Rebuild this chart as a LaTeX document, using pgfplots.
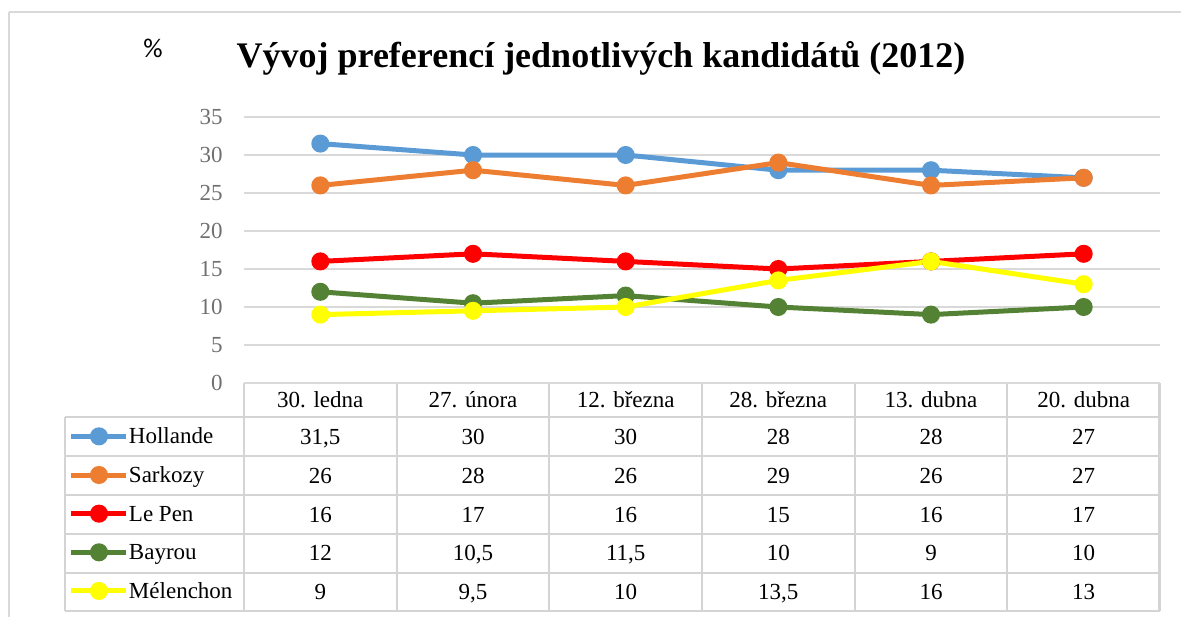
\documentclass[border=0pt]{standalone}
\usepackage{fontspec}
\setmainfont{Liberation Serif}
\newfontfamily\pctfont{Carlito}
\usepackage{pgfplots}
\pgfplotsset{compat=1.18}

\definecolor{hollande}{HTML}{5B9BD5}
\definecolor{sarkozy}{HTML}{ED7D31}
\definecolor{lepen}{HTML}{FF0000}
\definecolor{bayrou}{HTML}{548235}
\definecolor{melenchon}{HTML}{FFFF00}
\definecolor{gridgray}{HTML}{D9D9D9}
\definecolor{tablegray}{HTML}{D4D4D4}
\definecolor{tickgray}{HTML}{707070}

\newcommand{\cellfont}{\fontsize{11.5}{13}\selectfont}

\tikzset{
  series/.style={line width=2.5pt, mark=*, mark size=3.25pt, mark options={solid}},
}

% one row of the data table, #1 = row centre in px (y down)
\newcommand{\tablerow}[7]{%
  \node[anchor=base, font=\cellfont] at (320.3,#1+7.5) {#2};
  \node[anchor=base, font=\cellfont] at (473.0,#1+7.5) {#3};
  \node[anchor=base, font=\cellfont] at (625.7,#1+7.5) {#4};
  \node[anchor=base, font=\cellfont] at (778.3,#1+7.5) {#5};
  \node[anchor=base, font=\cellfont] at (931.0,#1+7.5) {#6};
  \node[anchor=base, font=\cellfont] at (1083.7,#1+7.5) {#7};
}

\begin{document}
\begin{tikzpicture}
\useasboundingbox (0,0) rectangle (590.5pt,308.5pt);

% frame, table grid and texts, in pixel units of the reference
\begin{scope}[x=0.5pt, y=-0.5pt, yshift=308.5pt]
  \draw[gridgray, line width=1pt] (9,12) -- (1181,12);
  \draw[gridgray, line width=1pt] (9,12) -- (9,617);

  \begin{scope}[tablegray, line width=1.1pt]
    \draw (244,383) -- (1159.5,383);
    \foreach \yy in {416.7,456,495,534,572.7,611.3}
      \draw (65,\yy) -- (1159.5,\yy);
    \draw (65,416.7) -- (65,611.3);
    \foreach \xx in {244,396.7,549.3,702,854.7,1007.3,1159.5}
      \draw (\xx,383) -- (\xx,611.3);
  \end{scope}

  \node[anchor=base, font=\bfseries\fontsize{18}{20}\selectfont] at (601,68) {Vývoj preferencí jednotlivých kandidátů (2012)};
  \node[anchor=base west, inner sep=0pt, font=\pctfont\fontsize{13.5}{15}\selectfont] at (143,58) {\%};

  \tablerow{400}{30. ledna}{27. února}{12. března}{28. března}{13. dubna}{20. dubna}
  \tablerow{436.5}{31,5}{30}{30}{28}{28}{27}
  \tablerow{475.5}{26}{28}{26}{29}{26}{27}
  \tablerow{514.5}{16}{17}{16}{15}{16}{17}
  \tablerow{553.3}{12}{10,5}{11,5}{10}{9}{10}
  \tablerow{592}{9}{9,5}{10}{13,5}{16}{13}
\end{scope}

\begin{axis}[
  at={(122pt,117pt)}, anchor=south west,
  scale only axis, width=458pt, height=133pt,
  xmin=0, xmax=6, ymin=0, ymax=35,
  xtick=\empty,
  ytick={0,5,...,35},
  ymajorgrids,
  grid style={gridgray, line width=1pt},
  axis line style={draw=none},
  major tick length=0pt,
  yticklabel style={font=\cellfont, text=tickgray, anchor=east, inner sep=0pt, xshift=-10.5pt},
  /pgf/number format/assume math mode=true,
  clip=false,
  legend cell align=left,
  legend style={draw=none, fill=none, inner sep=0pt, outer sep=0pt,
    row sep=0pt, column sep=0pt,
    at={(-0.19105,-0.12782)}, anchor=north west,
    nodes={inner sep=0pt, outer sep=0pt, minimum height=19.33pt,
      text height=9pt, text depth=1.5pt, font=\cellfont}},
  legend image code/.code={
    \draw[mark repeat=2, mark phase=2, #1] plot coordinates {(0pt,0pt) (13.75pt,0pt) (27.5pt,0pt)};
  },
]
\addplot[series, hollande] coordinates {(0.5,31.5) (1.5,30) (2.5,30) (3.5,28) (4.5,28) (5.5,27)};
\addlegendentry{Hollande}
\addplot[series, sarkozy] coordinates {(0.5,26) (1.5,28) (2.5,26) (3.5,29) (4.5,26) (5.5,27)};
\addlegendentry{Sarkozy}
\addplot[series, lepen] coordinates {(0.5,16) (1.5,17) (2.5,16) (3.5,15) (4.5,16) (5.5,17)};
\addlegendentry{Le Pen}
\addplot[series, bayrou] coordinates {(0.5,12) (1.5,10.5) (2.5,11.5) (3.5,10) (4.5,9) (5.5,10)};
\addlegendentry{Bayrou}
\addplot[series, melenchon] coordinates {(0.5,9) (1.5,9.5) (2.5,10) (3.5,13.5) (4.5,16) (5.5,13)};
\addlegendentry{Mélenchon}
\end{axis}
\end{tikzpicture}
\end{document}
